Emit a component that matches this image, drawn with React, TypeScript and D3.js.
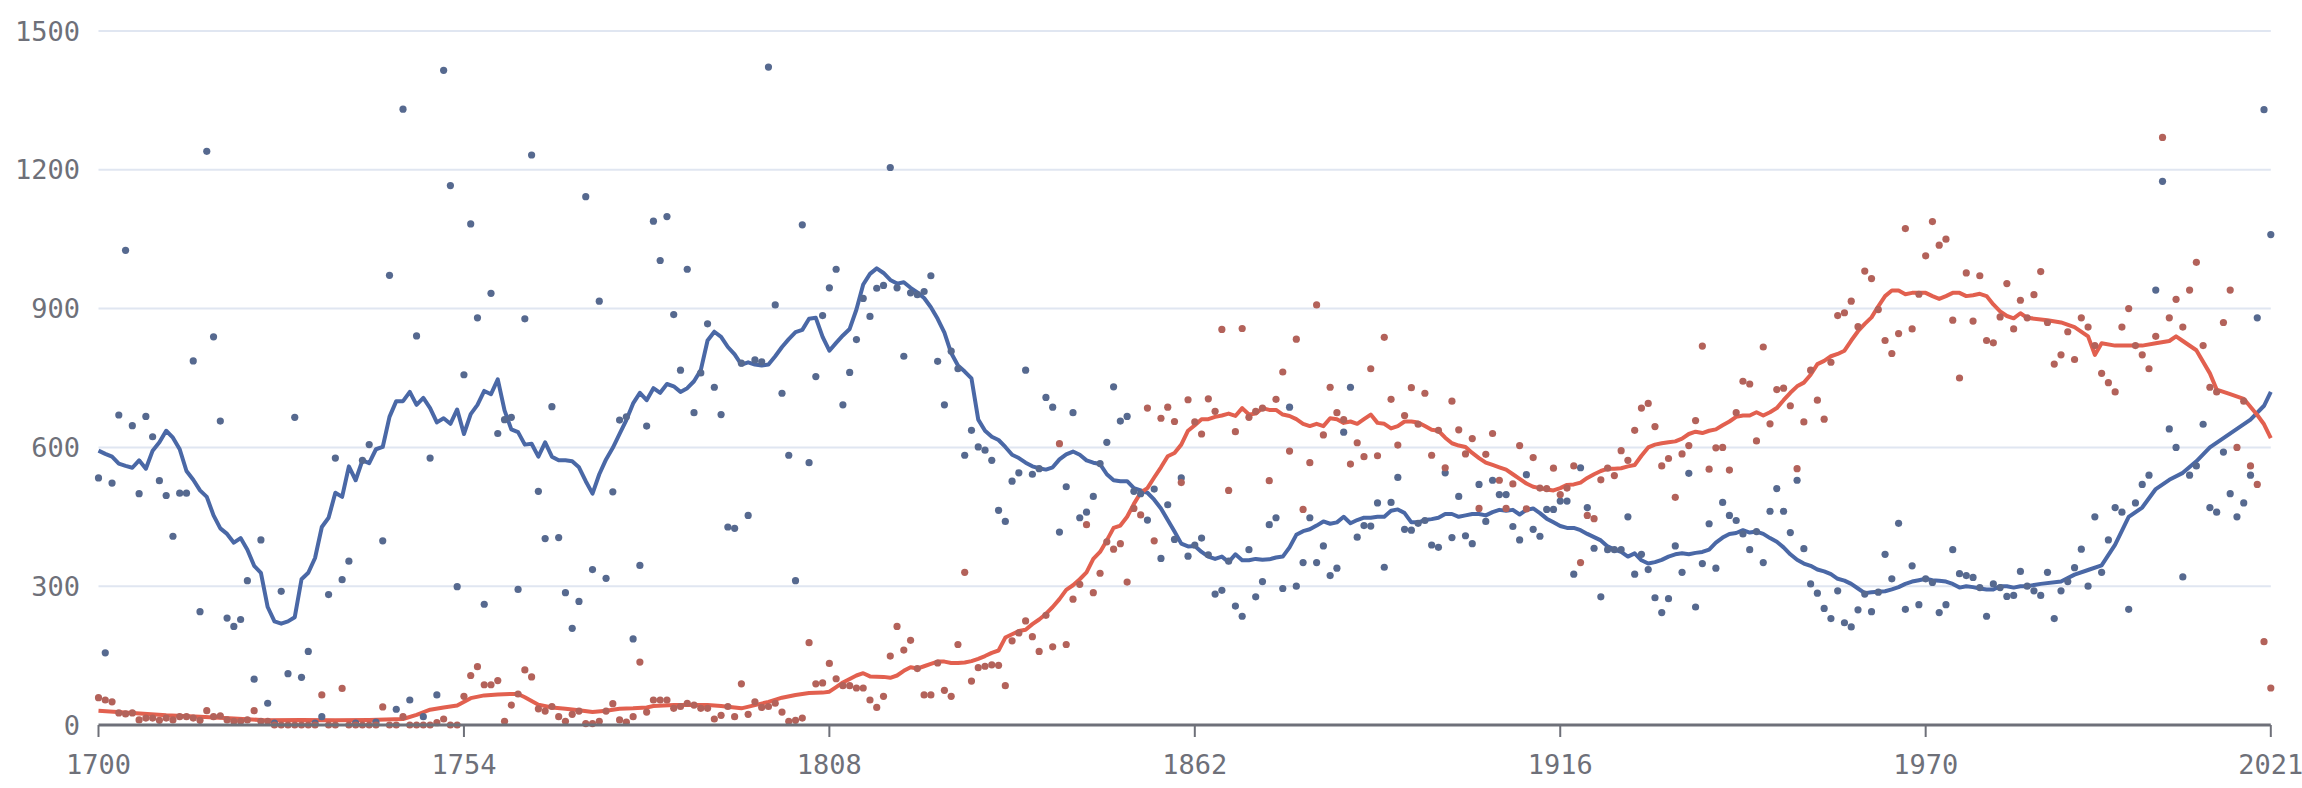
import React from "react";
import * as d3 from "d3";

const startYear = 1700;
const endYear = 2021;
const xTickYears = [1700, 1754, 1808, 1862, 1916, 1970, 2021];
const yTicks = [0, 300, 600, 900, 1200, 1500];

// scatter values, one per year 1700..2021
const bluePoints = [
  534,156,523,670,1026,647,500,667,623,528,
  496,408,501,501,787,245,1240,839,657,231,
  213,228,312,99,400,47,4,289,111,665,
  103,159,4,18,282,577,314,354,4,572,
  606,6,398,972,34,1331,54,841,18,577,
  65,1415,1166,299,757,1083,880,261,933,630,
  660,665,293,878,1232,505,403,688,405,286,
  209,267,1142,336,916,317,504,659,666,186,
  345,646,1089,1004,1099,887,767,985,675,761,
  867,730,671,428,425,782,453,789,785,1422,
  908,717,583,312,1081,567,753,885,945,985,
  692,762,833,922,883,944,950,1205,945,797,
  934,930,937,971,786,692,808,770,583,637,
  601,594,572,464,440,527,545,767,542,554,
  708,687,417,515,675,448,460,494,565,611,
  731,657,667,505,500,443,510,360,476,401,
  534,365,389,404,368,283,291,354,257,235,
  379,277,310,433,448,295,687,300,351,448,
  351,387,323,339,633,730,406,431,430,480,
  341,481,535,423,421,436,442,389,384,545,
  405,494,409,392,520,440,529,498,498,429,
  400,541,423,408,466,466,484,484,326,556,
  470,382,277,379,379,379,450,326,369,336,
  275,243,273,387,330,544,255,349,435,339,
  481,453,442,413,379,418,351,462,511,462,
  416,529,381,305,285,252,230,290,221,212,
  249,283,245,287,369,316,436,250,344,260,
  316,308,243,260,379,327,323,319,297,235,
  305,297,278,280,332,300,290,280,330,230,
  290,310,340,380,300,450,330,400,470,460,
  250,480,520,540,940,1175,640,600,320,540,
  560,650,470,460,590,500,450,480,540,880,
  1330,1060,
];

const redPoints = [
  59,54,50,26,24,26,11,15,15,10,
  15,11,18,18,15,10,31,18,20,11,
  8,8,11,31,8,8,0,0,0,0,
  0,0,0,65,0,0,79,0,0,0,
  0,0,39,0,0,18,0,0,0,0,
  5,13,0,0,62,107,126,87,87,96,
  8,43,67,119,104,35,30,40,18,8,
  23,30,3,3,8,30,46,11,6,18,
  136,28,54,54,54,36,40,47,43,36,
  36,13,21,40,18,89,23,50,38,40,
  47,28,8,10,15,178,89,91,133,100,
  85,85,80,80,54,38,62,149,213,162,
  183,122,65,65,134,75,62,174,330,95,
  124,127,130,129,85,182,199,225,191,159,
  237,169,608,174,272,304,433,286,328,396,
  380,392,309,468,454,685,398,663,687,656,
  524,703,655,629,705,678,855,507,634,857,
  665,678,685,528,704,763,592,834,466,567,
  908,627,730,675,660,564,610,580,770,582,
  838,704,605,669,729,650,717,583,637,556,
  700,638,586,619,468,585,630,529,468,521,
  604,467,578,512,511,555,498,512,560,351,
  453,446,530,555,539,593,572,637,685,695,
  645,560,576,492,586,604,658,819,553,599,
  600,551,675,743,737,614,817,651,725,728,
  690,554,655,767,702,661,784,885,891,916,
  861,981,965,898,831,803,846,1073,856,931,
  1014,1088,1037,1050,875,750,977,873,971,831,
  826,882,954,856,918,880,930,980,870,780,
  800,850,790,880,860,820,760,740,720,860,
  900,820,800,770,840,1270,880,920,860,940,
  1000,820,730,720,870,940,600,700,560,520,
  180,80,
];

// smoothed lines
const blueLineYears = [
  ...d3.range(1700, 1985),
  1985,1987,1990,1992,1994,1996,1998,2000,2002,2004,2006,2008,2010,2012,2014,2016,2018,2020,2021,
];
const blueLineValues = [
  593,586,580,565,560,556,572,554,593,611,
  636,621,596,549,530,507,493,453,425,413,
  394,404,379,344,329,255,224,219,224,233,
  315,329,361,428,448,502,493,559,529,572,
  566,596,601,666,700,700,720,692,707,685,
  654,663,651,682,629,672,692,722,715,747,
  680,639,633,606,608,580,611,580,572,572,
  570,557,527,500,542,574,599,629,659,695,
  718,702,728,718,737,732,720,728,743,767,
  831,850,839,817,801,779,784,779,777,779,
  797,817,834,849,854,878,880,839,809,826,
  842,856,898,952,975,987,977,962,954,957,
  945,935,923,903,878,848,804,777,764,749,
  660,636,623,616,601,584,577,567,559,555,
  552,557,574,585,591,584,572,567,564,542,
  529,527,527,512,507,502,487,468,443,418,
  392,386,387,374,364,359,364,352,369,356,
  356,359,357,358,362,364,384,411,419,423,
  431,440,435,438,450,436,443,448,448,450,
  450,463,466,458,438,438,443,445,448,456,
  456,450,453,456,456,453,460,465,463,465,
  455,465,468,458,446,438,430,426,426,421,
  413,406,399,386,379,374,364,371,356,349,
  352,357,364,369,371,369,372,374,379,394,
  405,413,415,421,416,418,413,404,396,384,
  369,357,349,344,336,332,326,316,312,305,
  295,285,287,288,289,293,298,305,310,313,
  316,313,312,310,305,297,300,298,295,293,
  293,300,300,297,300,
  300,305,310,325,335,345,390,450,470,510,530,545,570,600,620,640,660,690,720,
];

const redLineYears = [
  1700,1705,1710,1715,1720,1725,1730,1735,1740,1745,1747,1749,1751,1753,1755,1757,1759,1761,1762,1763,
  1765,1767,1769,1771,1773,1775,1777,1779,1781,1782,1785,1788,1790,1792,1794,1795,1797,1799,1801,1803,
  1805,1807,1808,1809,1810,1812,1813,1814,1816,1817,1818,1819,1820,1821,
  ...d3.range(1822, 1985),
  1985,1988,1990,1992,1994,1995,1996,1998,2000,2002,2004,2006,2007,2008,2010,2012,2013,2015,2017,2019,2020,2021,
];
const redLineValues = [
  31,26,21,18,14,10,11,10,11,13,22,33,38,42,58,64,66,67,67,60,
  44,38,35,32,28,31,35,36,38,41,43,43,43,41,38,36,43,50,59,65,
  69,70,72,82,92,107,112,105,104,102,107,117,125,122,
  127,132,137,137,134,134,135,138,
  143,149,156,161,189,196,203,206,218,228,
  240,255,272,292,302,315,330,359,374,399,
  426,431,450,478,502,512,535,557,581,588,
  606,636,648,661,661,666,669,673,668,685,
  671,673,685,681,681,671,668,661,651,646,
  651,646,663,661,653,656,651,661,671,653,
  651,641,646,656,656,654,646,638,636,621,
  609,604,601,588,577,567,562,557,552,542,
  532,522,515,512,509,507,512,519,520,524,
  534,542,549,554,554,555,559,562,582,600,
  606,609,611,613,619,629,634,631,636,639,
  648,656,666,669,669,676,669,676,685,702,
  718,732,740,757,780,787,797,802,809,831,
  851,867,881,905,927,939,939,931,934,934,
  934,927,921,927,934,934,927,929,932,927,
  909,894,884,879,890,
  880,875,870,860,840,800,825,820,820,820,825,830,840,830,810,760,725,715,705,670,650,620,
];

const W = 2302;
const H = 788;
const M = { left: 98.5, right: 2270.8, top: 31, bottom: 725 };
const FONT = "'DejaVu Sans Mono', monospace";
const AXIS = "#6E7079";

export default function App() {
  const x = d3.scaleLinear().domain([startYear, endYear]).range([M.left, M.right]);
  const y = d3.scaleLinear().domain([0, 1500]).range([M.bottom, M.top]);
  const line = d3
    .line<[number, number]>()
    .x((d) => x(d[0]))
    .y((d) => y(d[1]));
  const years = d3.range(startYear, endYear + 1);
  const blueLine = blueLineYears.map((yr, i) => [yr, blueLineValues[i]] as [number, number]);
  const redLine = redLineYears.map((yr, i) => [yr, redLineValues[i]] as [number, number]);

  return (
    <svg
      width={W}
      height={H}
      style={{ position: "absolute", left: 0, top: 0, background: "#fff" }}
    >
      {yTicks.slice(1).map((t) => (
        <line key={t} x1={M.left} x2={M.right} y1={y(t)} y2={y(t)} stroke="#E0E6F1" strokeWidth={2} />
      ))}
      {yTicks.map((t) => (
        <text
          key={t}
          x={80}
          y={y(t)}
          textAnchor="end"
          dominantBaseline="central"
          fontFamily={FONT}
          fontSize={27}
          fill={AXIS}
        >
          {t}
        </text>
      ))}
      <path d={line(blueLine) || ""} fill="none" stroke="#4a68a6" strokeWidth={4} strokeLinejoin="round" />
      <path d={line(redLine) || ""} fill="none" stroke="#e2604f" strokeWidth={4} strokeLinejoin="round" />
      {years.map((yr, i) =>
        bluePoints[i] == null ? null : (
          <circle key={"b" + yr} cx={x(yr)} cy={y(bluePoints[i])} r={3.6} fill="#56698f" />
        )
      )}
      {years.map((yr, i) =>
        redPoints[i] == null ? null : (
          <circle key={"r" + yr} cx={x(yr)} cy={y(redPoints[i])} r={3.6} fill="#b3625a" />
        )
      )}
      <line x1={M.left} x2={M.right} y1={M.bottom} y2={M.bottom} stroke={AXIS} strokeWidth={3} />
      {xTickYears.map((t) => (
        <g key={t}>
          <line x1={x(t)} x2={x(t)} y1={M.bottom} y2={M.bottom + 12} stroke={AXIS} strokeWidth={2} />
          <text
            x={x(t)}
            y={M.bottom + 39}
            textAnchor="middle"
            dominantBaseline="central"
            fontFamily={FONT}
            fontSize={27}
            fill={AXIS}
          >
            {t}
          </text>
        </g>
      ))}
    </svg>
  );
}
